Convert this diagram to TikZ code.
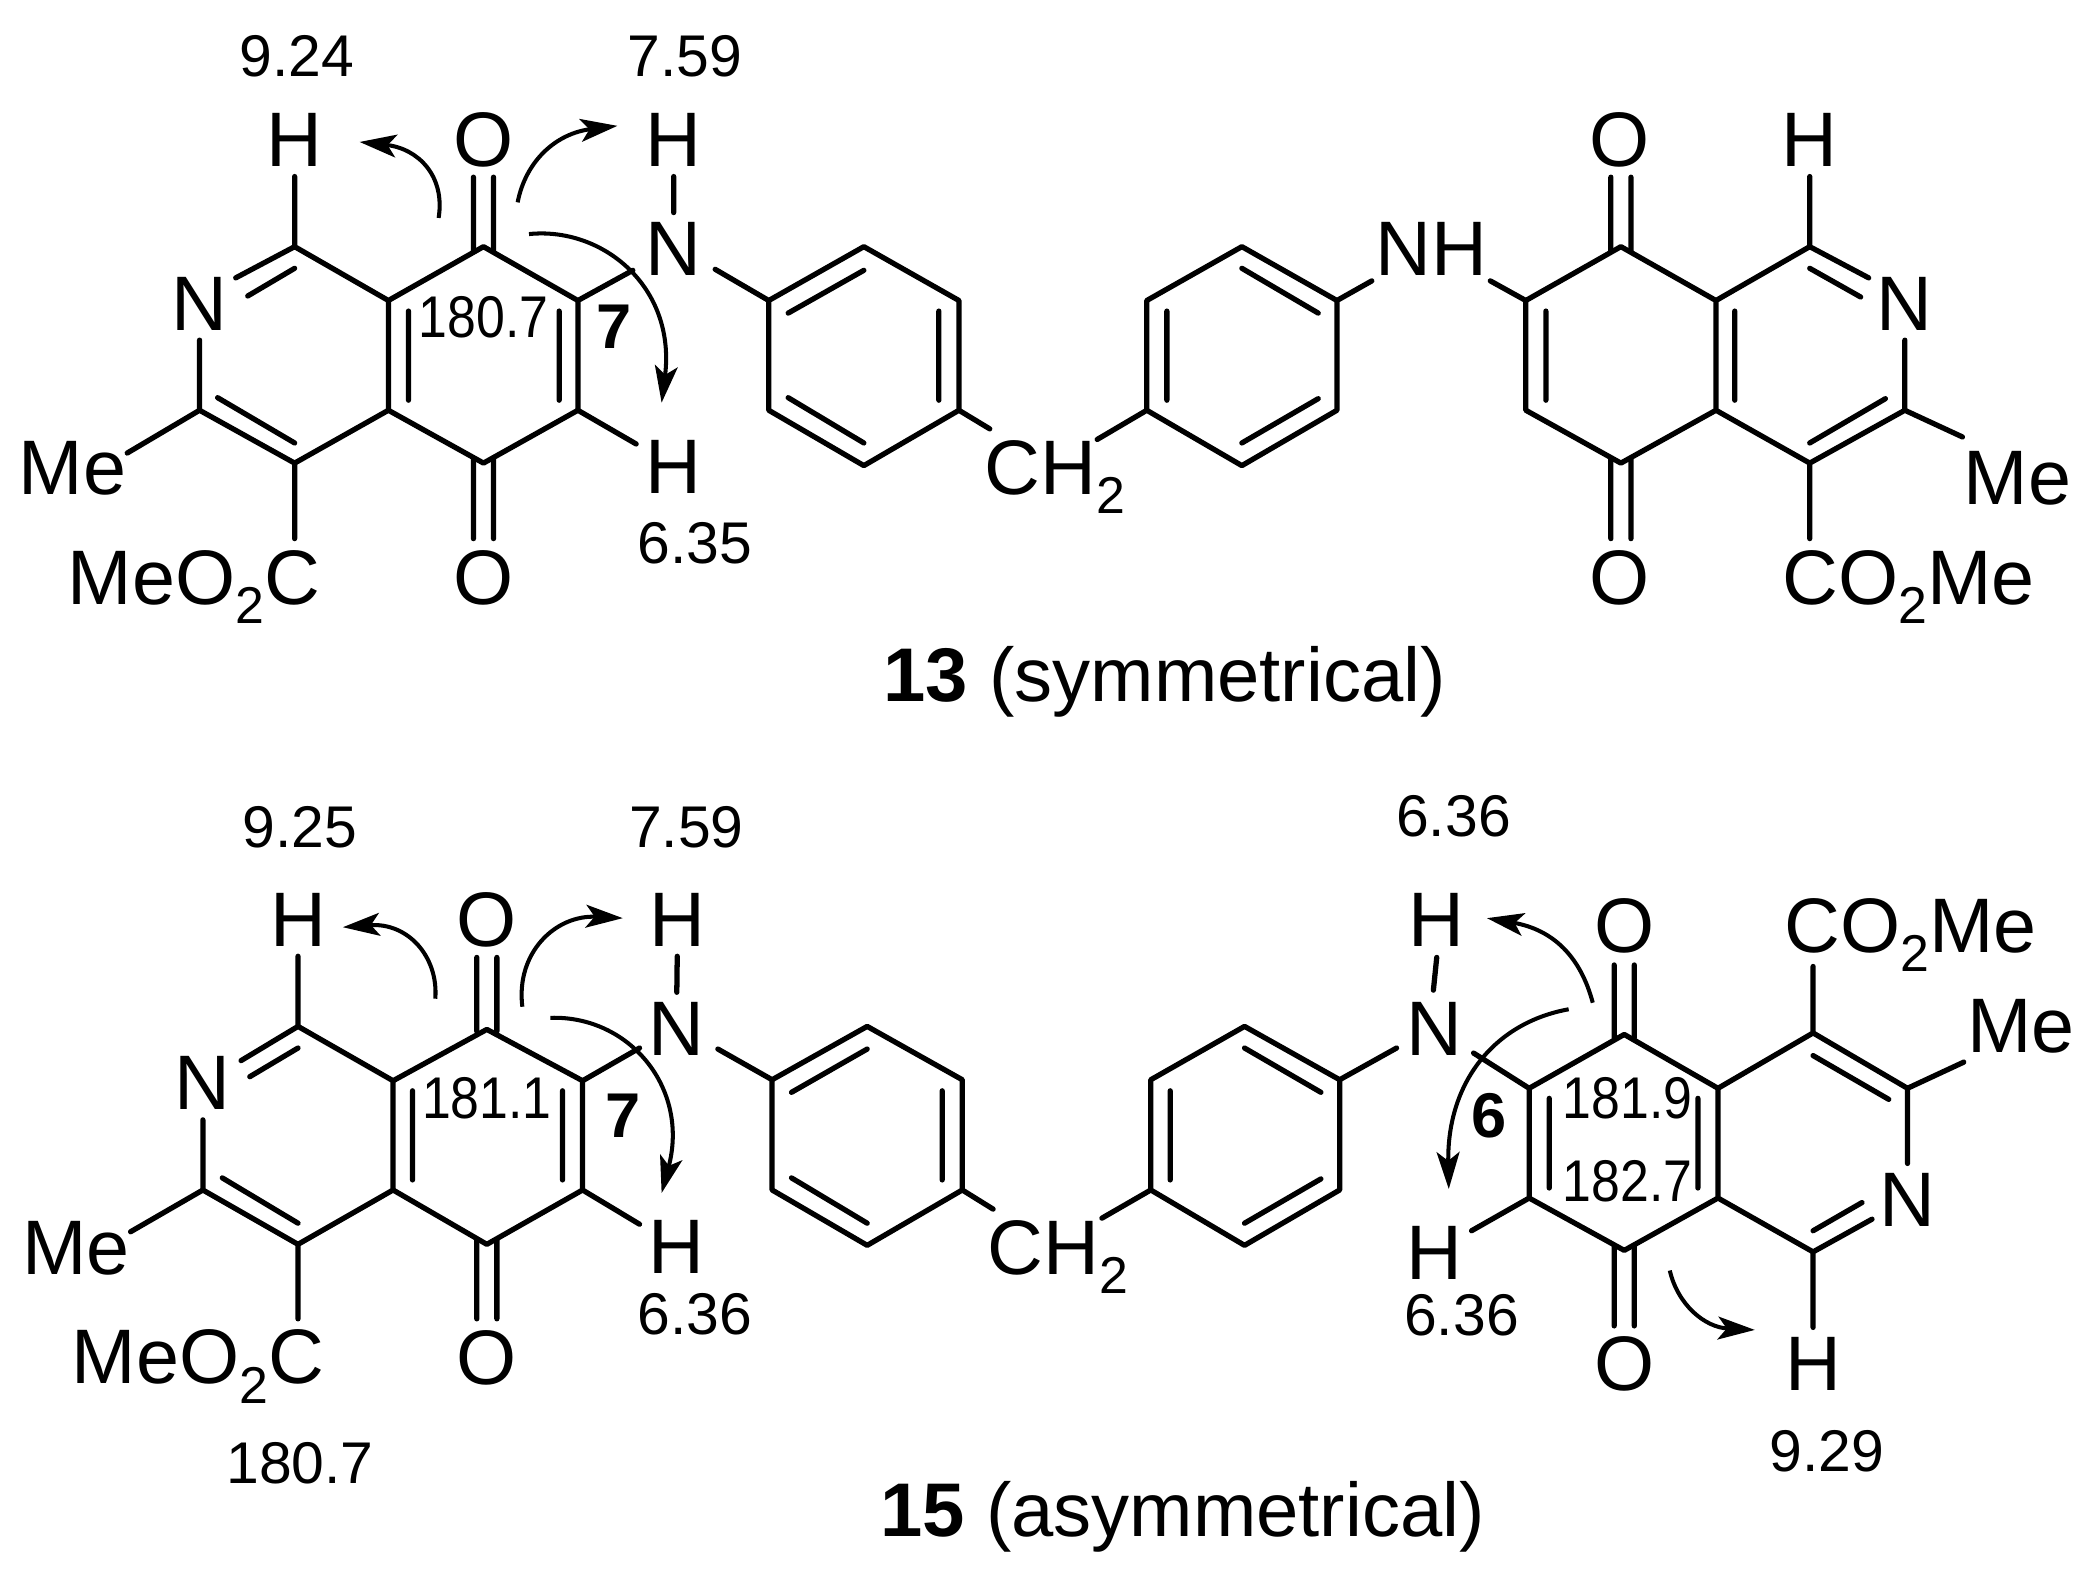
\documentclass[tikz,border=0pt]{standalone}
\usepackage{fontspec}
\usetikzlibrary{arrows.meta,calc}
\newfontfamily\labfam{Liberation Sans}
\newfontfamily\ringfam[FakeStretch=0.88]{Liberation Sans}
\newcommand{\subtwo}{\raisebox{-11pt}{\fontsize{29.5}{30}\selectfont 2}}
\tikzset{
  bond/.style={line width=3pt,line cap=round,line join=round},
  arr/.style={line width=2.3pt,-{Stealth[length=21pt,width=13pt,inset=5pt]}},
  atom/.style={inner xsep=7.6pt,inner ysep=5.7pt,outer sep=0pt,font=\labfam\fontsize{44}{46}\selectfont},
  atomw/.style={atom,anchor=base west,inner sep=0pt},
  atome/.style={atom,anchor=base east,inner sep=0pt},
  num/.style={inner sep=0pt,font=\labfam\fontsize{33.5}{35}\selectfont},
  ringnum/.style={inner sep=0pt,font=\ringfam\fontsize{33.5}{35}\selectfont},
  posnum/.style={inner sep=0pt,font=\labfam\bfseries\fontsize{36}{38}\selectfont},
  capt/.style={inner sep=0pt,anchor=base west,font=\labfam\fontsize{43.3}{46}\selectfont},
}
\begin{document}
\begin{tikzpicture}[x=0.013393cm,y=-0.010076cm]
\useasboundingbox (0,0) rectangle (3128.5,3130);
% ===== top left =====
\begin{scope}
\foreach \n/\x/\y in {a1/440/490,a3/298/815,a4/440/920,a5/580/815,a6/580/597,a7/722/490,a8/863/597,a9/863/815,a10/722/920,
  b1/1148/597,b2/1290/490,b3/1432/597,b4/1432/815,b5/1290/925,b6/1148/815,
  tme/190/900,tmc/440/1070,tnl/352/552,tnr/945/537,tnb/1068/535,thl/950/882,tch/1478/852}
  {\coordinate (\n) at (\x,\y);}
\node[atom] (H1) at (440,278) {H};
\node[atom] (N1) at (298,603) {N};
\node[atom] (O1) at (722,278) {O};
\node[atom] (O2) at (722,1148) {O};
\node[atom] (H2) at (1006,278) {H};
\node[atom] (N2) at (1006,495) {N};
\node[atom] (H3) at (1006,928) {H};
\node[atomw] (Me1) at (28,982) {Me};
\node[atome] (EC1) at (478,1200) {MeO\subtwo C};
\node[atomw] (CH) at (1470,982) {CH\subtwo};
\draw[bond] (H1)--(a1)--(tnl) (N1)--(a3)--(a4)--(a5)--(a6)--(a1) (a3)--(tme)
  (a6)--(a7)--(a8)--(a9)--(a10)--(a5) (a4)--(tmc) (a8)--(tnr) (a9)--(thl) (H2)--(N2) (tnb)--(b1)
  (b1)--(b2)--(b3)--(b4)--(b5)--(b6)--(b1) (b4)--(tch);
\draw[bond] (440,533)--(370,588) (325,790)--(440,880) (610,618)--(610,795) (835,618)--(835,795)
  (707,352)--(707,500) (737,352)--(737,500) (707,910)--(707,1070) (737,910)--(737,1070)
  (1177,622)--(1290,537) (1402,618)--(1402,795) (1177,790)--(1290,880);
\node[num] (s1) at (443,112) {9.24};
\node[num] (s2) at (1023,112) {7.59};
\node[num] (s3) at (1038,1080) {6.35};
\node[ringnum] (s4) at (722,630) {180.7};
\node[posnum] (s5) at (917,650) {7};
\draw[arr] (655,433) .. controls (665,350) and (625,295) .. (537,282);
\draw[arr] (773,402) .. controls (785,320) and (830,265) .. (922,250);
\draw[arr] (790,465) .. controls (900,450) and (1010,570) .. (988,800);
\node[capt] (T1) at (1319,1393) {{\bfseries 13} (symmetrical)};
\end{scope}
% ===== top right =====
\begin{scope}[shift={(1560.5,0)}]
\foreach \n/\x/\y in {c1/152/597,c2/294/490,c3/436/597,c4/436/815,c5/294/925,c6/152/815,
  d1/718/597,d2/860/490,d3/1002/597,d4/1002/815,d5/860/920,d6/718/815,
  e1/1142/490,e3/1284/815,e4/1142/920,unl/1230/552,ume/1370/868,umc/1142/1070,
  unh1/488/558,unh2/665/558,uch/78/873}
  {\coordinate (\n) at (\x,\y);}
\node[atom] (NH1) at (577,495) {NH};
\node[atom] (O3) at (858,278) {O};
\node[atom] (O4) at (858,1148) {O};
\node[atom] (H4) at (1142,278) {H};
\node[atom] (N3) at (1284,603) {N};
\node[atomw] (Me2) at (1372,1002) {Me};
\node[atomw] (EC2) at (1101,1200) {CO\subtwo Me};
\draw[bond] (uch)--(c6)--(c1)--(c2)--(c3)--(c4)--(c5)--(c6) (c3)--(unh1) (unh2)--(d1)
  (d1)--(d2)--(d3)--(d4)--(d5)--(d6)--(d1) (d3)--(e1)--(unl) (H4)--(e1) (N3)--(e3)--(e4)--(d4)
  (e3)--(ume) (e4)--(umc);
\draw[bond] (182,618)--(182,795) (294,533)--(408,622) (294,880)--(408,792)
  (748,618)--(748,795) (1030,618)--(1030,795) (1142,533)--(1218,590) (1142,880)--(1255,792)
  (845,352)--(845,500) (875,352)--(875,500) (845,910)--(845,1070) (875,910)--(875,1070);
\end{scope}
% ===== bottom left =====
\begin{scope}[shift={(0,1562)}]
\foreach \n/\x/\y in {f1/445/477,f3/303/802,f4/445/910,f5/587/802,f6/587/585,f7/727/483,f8/870/585,f9/870/802,f10/727/910,
  g1/1153/583,g2/1295/477,g3/1437/583,g4/1437/802,g5/1295/912,g6/1153/802,
  vme/195/885,vmc/445/1058,vnl/360/545,vnr/955/520,vnb/1072/522,vhl/955/870,vch/1483/840}
  {\coordinate (\n) at (\x,\y);}
\node[atom] (H5) at (445,265) {H};
\node[atom] (N4) at (303,590) {N};
\node[atom] (O5) at (727,265) {O};
\node[atom] (O6) at (727,1135) {O};
\node[atom] (H6) at (1012,265) {H};
\node[atom] (N5) at (1010,482) {N};
\node[atom] (H7) at (1010,915) {H};
\node[atomw] (Me3) at (33,970) {Me};
\node[atome] (EC3) at (484,1187) {MeO\subtwo C};
\node[atomw] (CH2) at (1475,970) {CH\subtwo};
\draw[bond] (H5)--(f1)--(vnl) (N4)--(f3)--(f4)--(f5)--(f6)--(f1) (f3)--(vme)
  (f6)--(f7)--(f8)--(f9)--(f10)--(f5) (f4)--(vmc) (f8)--(vnr) (f9)--(vhl) (H6)--(N5) (vnb)--(g1)
  (g1)--(g2)--(g3)--(g4)--(g5)--(g6)--(g1) (g4)--(vch);
\draw[bond] (445,520)--(373,577) (332,778)--(445,868) (616,605)--(616,782) (840,605)--(840,782)
  (712,340)--(712,487) (742,340)--(742,487) (712,900)--(712,1058) (742,900)--(742,1058)
  (1182,608)--(1295,522) (1407,605)--(1407,782) (1182,778)--(1295,868);
\node[num] (s6) at (448,82) {9.25};
\node[num] (s7) at (1025,82) {7.59};
\node[num] (s8) at (1038,1048) {6.36};
\node[num] (s9) at (448,1345) {180.7};
\node[ringnum] (s10) at (727,620) {181.1};
\node[posnum] (s11) at (930,655) {7};
\draw[arr] (650,422) .. controls (655,340) and (610,270) .. (512,280);
\draw[arr] (780,438) .. controls (770,330) and (830,255) .. (930,262);
\draw[arr] (822,460) .. controls (940,455) and (1030,600) .. (988,808);
\node[capt] (T2) at (1314,1490) {{\bfseries 15} (asymmetrical)};
\end{scope}
% ===== bottom right =====
\begin{scope}[shift={(1560.5,1562)}]
\foreach \n/\x/\y in {h1/158/583,h2/298/477,h3/440/583,h4/440/802,h5/298/912,h6/158/802,
  i1/723/600,i2/865/493,i3/1005/600,i4/1005/818,i5/865/922,i6/723/818,
  j1/1147/490,j3/1288/600,j5/1147/925,wn/1235/860,wme/1372/548,wc/1147/358,wh/1147/1075,
  wnh/525/520,wnr/640/530,whl/637/883,wch/85/858,wn1/585/340,wn2/580/405}
  {\coordinate (\n) at (\x,\y);}
\node[atom] (H8) at (585,265) {H};
\node[atom] (N6) at (582,482) {N};
\node[atom] (H9) at (582,927) {H};
\node[atom] (O7) at (865,278) {O};
\node[atom] (O8) at (865,1148) {O};
\node[atom] (H10) at (1147,1148) {H};
\node[atom] (N7) at (1288,822) {N};
\node[atomw] (Me4) at (1377,528) {Me};
\node[atomw] (EC4) at (1104,330) {CO\subtwo Me};
\draw[bond] (wch)--(h6)--(h1)--(h2)--(h3)--(h4)--(h5)--(h6) (h3)--(wnh) (wnr)--(i1) (wn1)--(wn2)
  (i1)--(i2)--(i3)--(i4)--(i5)--(i6)--(i1) (i6)--(whl) (i3)--(j1)--(j3)--(N7) (j3)--(wme) (j1)--(wc)
  (i4)--(j5)--(wn) (j5)--(wh);
\draw[bond] (187,605)--(187,782) (298,520)--(412,608) (298,868)--(412,780)
  (753,620)--(753,798) (975,620)--(975,798) (1147,535)--(1260,622) (1147,883)--(1220,827)
  (850,355)--(850,500) (880,355)--(880,500) (850,912)--(850,1072) (880,912)--(880,1072);
\node[num] (s12) at (610,60) {6.36};
\node[num] (s13) at (622,1050) {6.36};
\node[num] (s14) at (1168,1322) {9.29};
\node[ringnum] (s15) at (870,620) {181.9};
\node[ringnum] (s16) at (870,785) {182.7};
\node[posnum] (s17) at (663,655) {6};
\draw[arr] (818,430) .. controls (800,340) and (760,285) .. (660,262);
\draw[arr] (782,443) .. controls (670,470) and (600,590) .. (603,800);
\draw[arr] (933,962) .. controls (945,1030) and (985,1075) .. (1060,1080);
\end{scope}
\end{tikzpicture}
\end{document}
